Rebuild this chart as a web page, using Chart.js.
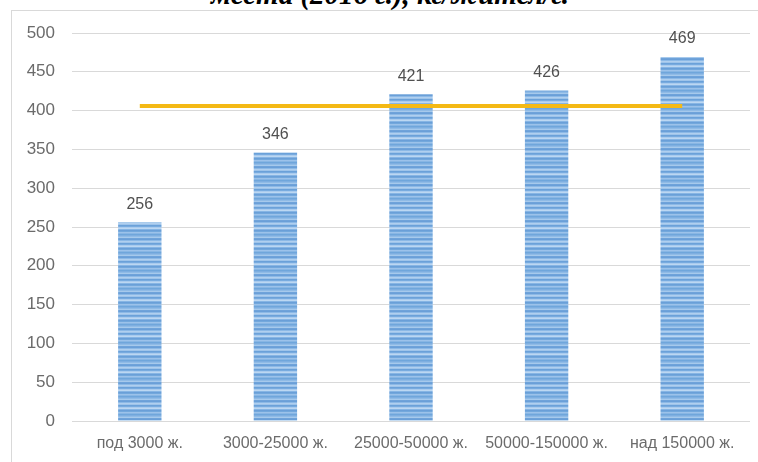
<!DOCTYPE html>
<html>
<head>
  <title>Отпадъци по големина на населените места</title>
  <script src="https://cdn.jsdelivr.net/npm/chart.js"></script>
  <style>
    body { margin: 0; width: 758px; height: 462px; overflow: hidden; background: #fff; position: relative; }
    #frame { position: absolute; left: 11px; top: 10px; width: 760px; height: 470px; border: 1px solid #d9d9d9; }
    #title { position: absolute; left: 0; width: 780px; top: -22px; text-align: center;
             font: italic bold 29px "Liberation Serif", serif; color: #000; white-space: nowrap; }
    #wrap { position: absolute; left: 0; top: 0; width: 758px; height: 462px; }
  </style>
</head>
<body>
  <div id="frame"></div>
  <div id="title">места (2016 г.), кг/жител/г.</div>
  <div id="wrap"><canvas id="wasteChart"></canvas></div>

  <script>
    // --- data ---
    const categories = ['под 3000 ж.', '3000-25000 ж.', '25000-50000 ж.', '50000-150000 ж.', 'над 150000 ж.'];
    const wastePerPerson = [256, 346, 421, 426, 469];
    const averageLine = [406, 406, 406, 406, 406];
    const yTicks = [0, 50, 100, 150, 200, 250, 300, 350, 400, 450, 500];

    // striped blue fill like the original picture
    function stripePattern() {
      const c = document.createElement('canvas');
      c.width = 1; c.height = 18;
      const g = c.getContext('2d');
      const rows = ['#6fa6db', '#7eaee0', '#8fbbe6', '#a6c9ec', '#6fa3da', '#6a9fd8', '#8cb9e6', '#b0cfef', '#9ec4ea',
                    '#6ba1d9', '#78abdf', '#a9cbee', '#bcd7f2', '#86b5e4', '#6a9fd8', '#73a8dc', '#9cc2ea', '#88b6e4'];
      rows.forEach((col, i) => { g.fillStyle = col; g.fillRect(0, i, 1, 1); });
      return g.createPattern(c, 'repeat');
    }

    // values above the bars
    const barLabels = {
      id: 'barLabels',
      afterDatasetsDraw(chart) {
        const ctx = chart.ctx;
        const meta = chart.getDatasetMeta(1);
        ctx.save();
        ctx.font = '16px "Liberation Sans", Arial, sans-serif';
        ctx.fillStyle = '#505050';
        ctx.textAlign = 'center';
        ctx.textBaseline = 'bottom';
        meta.data.forEach((bar, i) => {
          ctx.fillText(wastePerPerson[i], bar.x, bar.y - 10);
        });
        ctx.restore();
      }
    };

    const ctx = document.getElementById('wasteChart').getContext('2d');
    new Chart(ctx, {
      data: {
        labels: categories,
        datasets: [
          {
            type: 'line',
            data: averageLine,
            borderColor: '#f4b915',
            borderWidth: 4,
            pointRadius: 0,
            order: 0
          },
          {
            type: 'bar',
            data: wastePerPerson,
            backgroundColor: stripePattern(),
            borderWidth: 0,
            barPercentage: 0.32,
            categoryPercentage: 1,
            order: 1
          }
        ]
      },
      options: {
        responsive: true,
        maintainAspectRatio: false,
        animation: false,
        layout: { padding: { top: 33, right: 8, left: 0, bottom: 0 } },
        plugins: { legend: { display: false }, tooltip: { enabled: false } },
        scales: {
          x: {
            grid: { display: false, drawTicks: false },
            border: { display: false },
            ticks: {
              color: '#6b6b6b', font: { size: 16, family: '"Liberation Sans", Arial, sans-serif' },
              padding: 13, maxRotation: 0, autoSkip: false
            },
            afterFit: s => { s.height = 41; }
          },
          y: {
            min: 0, max: 500,
            afterBuildTicks: s => { s.ticks = yTicks.map(v => ({ value: v })); },
            grid: { color: '#d9d9d9', lineWidth: 1, drawTicks: false },
            border: { display: false },
            ticks: {
              color: '#6b6b6b', font: { size: 17, family: '"Liberation Sans", Arial, sans-serif' },
              padding: 17
            },
            afterFit: s => { s.width = 72; }
          }
        }
      },
      plugins: [barLabels]
    });
  </script>
</body>
</html>
